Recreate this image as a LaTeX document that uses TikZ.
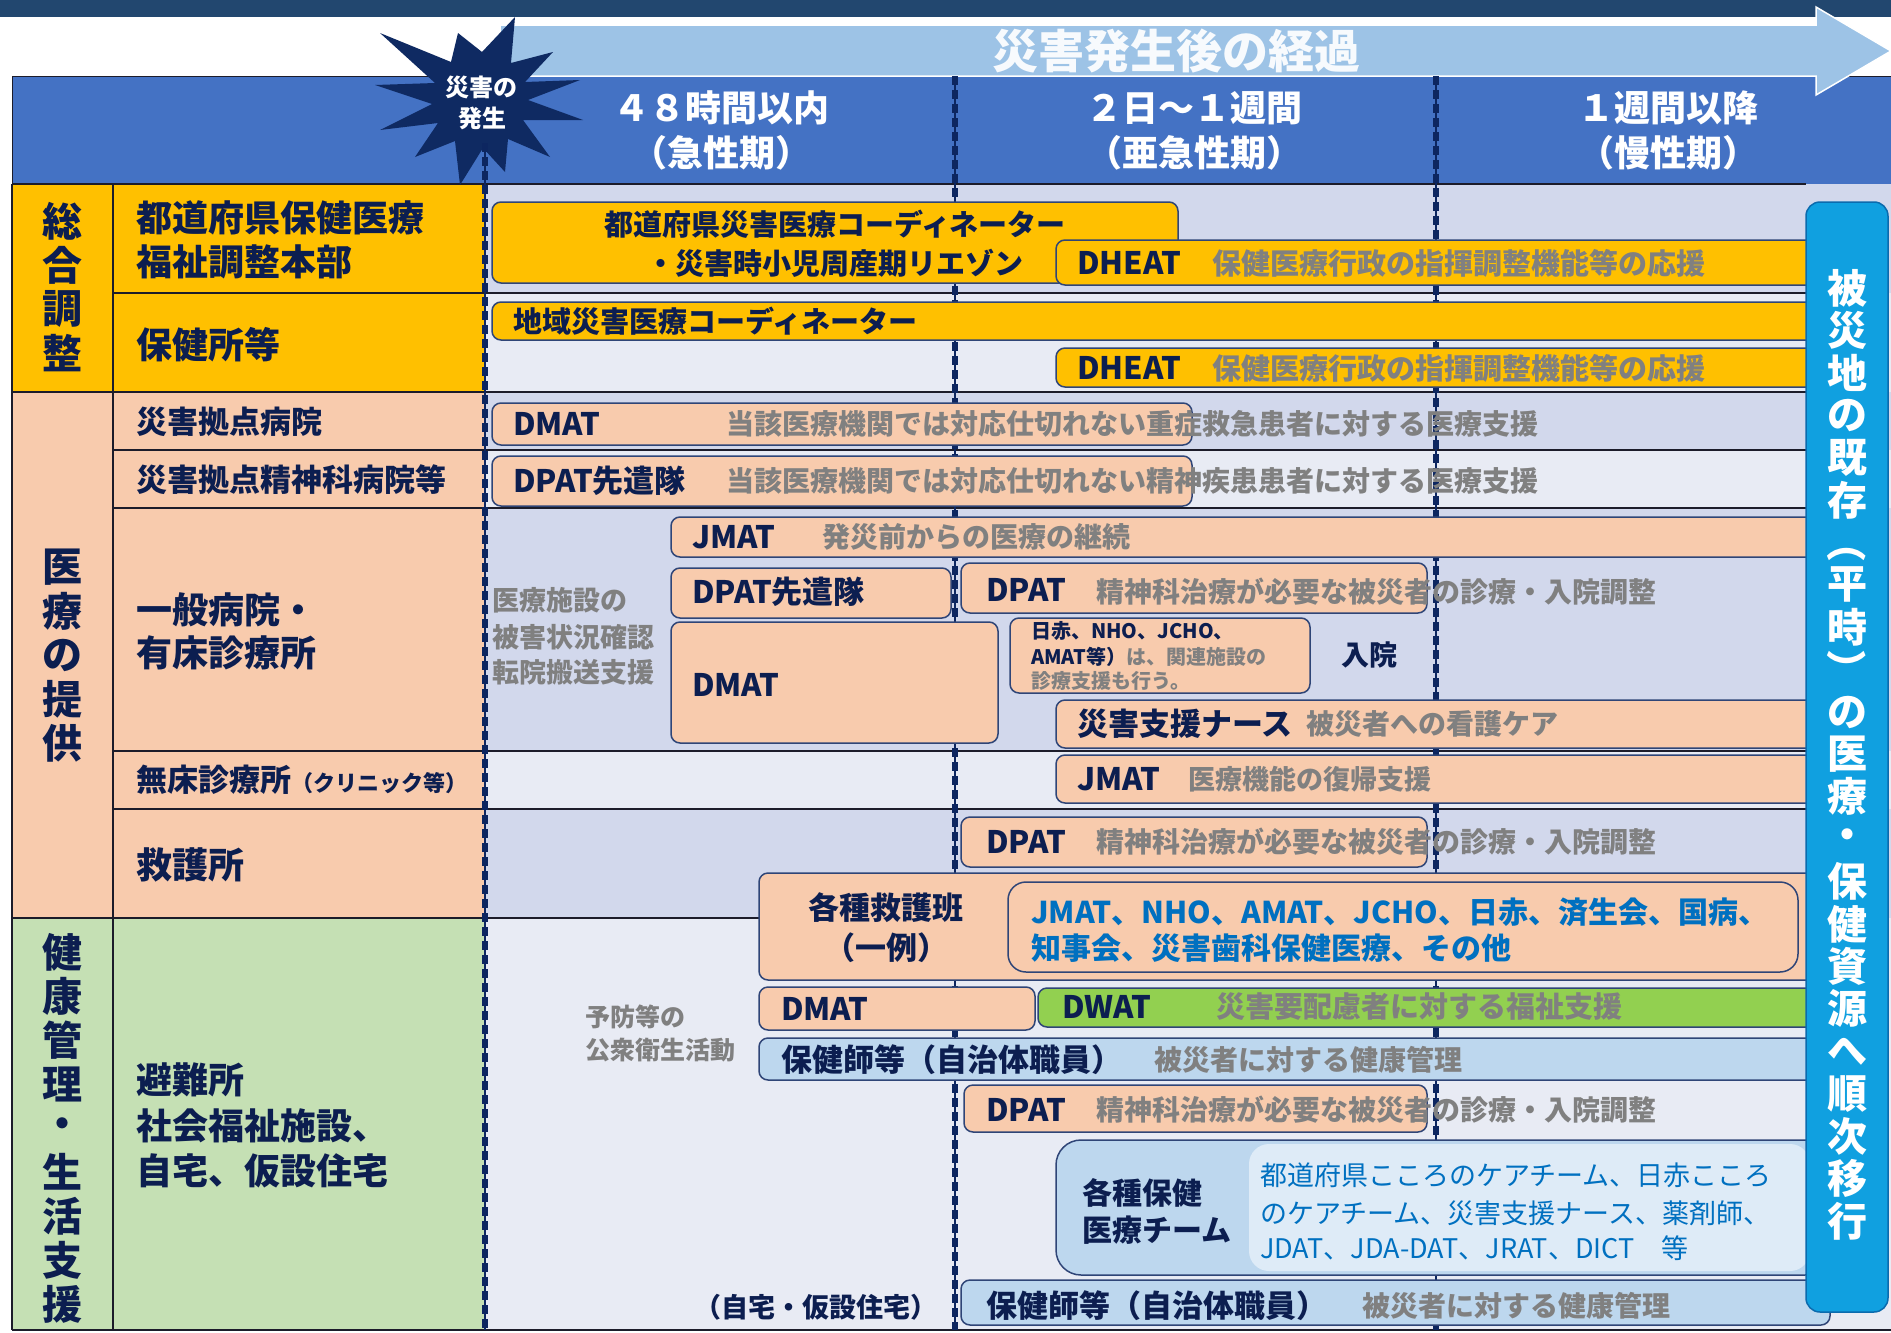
\documentclass[tikz,border=0pt]{standalone}
\usepackage{fontspec}
\setmainfont{Noto Sans CJK JP}
\usetikzlibrary{calc}
\newcommand\myfs[1]{\fontsize{#1}{#1}\selectfont}
\definecolor{topbar}{HTML}{22476F}
\definecolor{arrowblue}{HTML}{9DC3E6}
\definecolor{hdr}{HTML}{4472C4}
\definecolor{starnavy}{HTML}{0F2A62}
\definecolor{gold}{HTML}{FFC000}
\definecolor{peach}{HTML}{F8CBAD}
\definecolor{lgreen}{HTML}{C5E0B4}
\definecolor{dwat}{HTML}{92D050}
\definecolor{lblue}{HTML}{BDD7EE}
\definecolor{llblue}{HTML}{DEEBF7}
\definecolor{cyanbar}{HTML}{10A0E0}
\definecolor{cyanedge}{HTML}{0B6BAE}
\definecolor{rowdark}{HTML}{D2D8EC}
\definecolor{rowlight}{HTML}{E8EBF4}
\definecolor{navy}{HTML}{0C1E50}
\definecolor{grayt}{HTML}{808080}
\definecolor{bluet}{HTML}{0070C0}
\definecolor{boxline}{HTML}{2F4577}
\definecolor{dashnavy}{HTML}{0D2660}
\definecolor{rule}{HTML}{1C1C2A}
\begin{document}
\begin{tikzpicture}[x=1pt,y=-1pt,
  bx/.style={draw=boxline,line width=1.5pt,rounded corners=9pt},
  lb/.style={anchor=west,inner sep=0pt,text=navy,font=\bfseries\myfs{31}},
  gt/.style={anchor=west,inner sep=0pt,text=grayt,font=\bfseries\myfs{28}},
  lft/.style={anchor=west,inner sep=0pt,text=navy,font=\bfseries\myfs{36}},
  cat/.style={inner sep=0pt,text=navy,font=\bfseries\myfs{40}},
  hd/.style={inner sep=0pt,text=white,font=\bfseries\myfs{36}},
  bt/.style={anchor=west,inner sep=0pt,text=bluet,font=\bfseries\myfs{30}},
  rl/.style={draw=rule,line width=2pt},
  dl/.style={draw=dashnavy,line width=6pt,dash pattern=on 9pt off 5pt},
  sl/.style={draw=dashnavy,line width=1.2pt}]
\useasboundingbox (0,0) rectangle (1891,1333);
\fill[white] (0,0) rectangle (1891,1333);
% top bar
\fill[topbar] (0,0) rectangle (1891,17);
% header
\fill[hdr] (12,76) rectangle (1891,184);
\draw[rule,line width=1pt] (12,184) -- (12,76) -- (1891,76);
% arrow
\fill[arrowblue,draw=white,line width=1.5pt] (500,25) -- (1816,25) -- (1816,7) -- (1891,51) -- (1816,95) -- (1816,76) -- (500,76) -- cycle;
\node[inner sep=0pt,text=white!92!arrowblue,font=\bfseries\myfs{46}] (ttl) at (1176,51) {災害発生後の経過};
% header labels
\node[hd] (h1a) at (721,108) {４８時間以内};
\node[hd] (h1b) at (721,153) {（急性期）};
\node[hd] (h2a) at (1194,108) {２日～１週間};
\node[hd] (h2b) at (1194,153) {（亜急性期）};
\node[hd] (h3a) at (1668,108) {１週間以降};
\node[hd] (h3b) at (1668,153) {（慢性期）};
% left cells
\fill[gold] (12,184) rectangle (485,392);
\fill[peach] (12,392) rectangle (485,918);
\fill[lgreen] (12,918) rectangle (485,1330);
% timeline rows
\fill[rowdark] (485,184) rectangle (1891,293);
\fill[rowlight] (485,293) rectangle (1891,392);
\fill[rowdark] (485,392) rectangle (1891,450);
\fill[rowlight] (485,450) rectangle (1891,508);
\fill[rowdark] (485,508) rectangle (1891,751);
\fill[rowlight] (485,751) rectangle (1891,809);
\fill[rowdark] (485,809) rectangle (1891,918);
\fill[rowlight] (485,918) rectangle (1891,1330);
% rules
\draw[rl] (12,184) -- (1806,184);
\draw[rl] (12,392) -- (1806,392);
\draw[rl] (12,918) -- (1806,918);
\draw[rl] (12,1330) -- (1891,1330);
\foreach \yy in {293,450,508,751,809} \draw[rl] (113,\yy) -- (1806,\yy);
\draw[rl] (12,184) -- (12,1330);
\draw[rl] (113,184) -- (113,1330);
% dashed time lines
\draw[sl] (485,143) -- (485,1330);
\draw[dl] (485,143) -- (485,1330);
\draw[sl] (955,76) -- (955,1330);
\draw[dl] (955,76) -- (955,1330);
\draw[sl] (1436,76) -- (1436,1330);
\draw[dl] (1436,76) -- (1436,1330);
% star
\fill[starnavy] (515,17) -- (511,63) -- (553,52) -- (525,82) -- (580,80) -- (528,100) -- (583,120) -- (523,120) -- (550,157) -- (508,139) -- (505,172) -- (483,148) -- (460,185) -- (455,141) -- (415,157) -- (438,123) -- (380,130) -- (432,104) -- (375,85) -- (435,83) -- (380,33) -- (451,62) -- (458,33) -- (482,52) -- cycle;
\draw[sl] (485,143) -- (485,184);
\draw[dl] (485,143) -- (485,184);
\node[inner sep=0pt,text=white,font=\bfseries\myfs{24}] (st1) at (481,87) {災害の};
\node[inner sep=0pt,text=white,font=\bfseries\myfs{24}] (st2) at (482,118) {発生};
% category column
\foreach \c [count=\i] in {総,合,調,整} \node[cat] (ca\i) at (62,{221+44*(\i-1)}) {\c};
\foreach \c [count=\i] in {医,療,の,提,供} \node[cat] (cb\i) at (62,{567+44*(\i-1)}) {\c};
\foreach \c [count=\i] in {健,康,管,理,・,生,活,支,援} \node[cat] (cc\i) at (62,{952+44*(\i-1)}) {\c};
% second column labels
\node[lft] (l1a) at (136,218) {都道府県保健医療};
\node[lft] (l1b) at (136,262) {福祉調整本部};
\node[lft] (l2) at (136,345) {保健所等};
\node[lb] (l3) at (136,422) {災害拠点病院};
\node[lb] (l4) at (136,480) {災害拠点精神科病院等};
\node[lft] (l5a) at (136,610) {一般病院・};
\node[lft] (l5b) at (136,653) {有床診療所};
\node[lb] (l6) at (136,780) {無床診療所{\myfs{22}（クリニック等）}};
\node[lft] (l7) at (136,865) {救護所};
\node[lft] (l8a) at (136,1080) {避難所};
\node[lft] (l8b) at (136,1126) {社会福祉施設、};
\node[lft] (l8c) at (136,1171) {自宅、仮設住宅};
% ---- boxes: coordination
\filldraw[bx,fill=gold] (492,202) rectangle (1178,283);
\node[inner sep=0pt,text=navy,font=\bfseries\myfs{29}] (t1a) at (835,224) {都道府県災害医療コーディネーター};
\node[inner sep=0pt,text=navy,font=\bfseries\myfs{29}] (t1b) at (835,263) {・災害時小児周産期リエゾン};
\filldraw[bx,fill=gold] (1056,240) rectangle (1830,285);
\node[lb] (t2) at (1077,263) {DHEAT};
\node[gt,font=\bfseries\myfs{29}] (g2) at (1212,263) {保健医療行政の指揮調整機能等の応援};
\filldraw[bx,fill=gold] (492,302) rectangle (1830,340);
\node[lb,font=\bfseries\myfs{29}] (t3) at (513,321) {地域災害医療コーディネーター};
\filldraw[bx,fill=gold] (1056,348) rectangle (1830,387);
\node[lb] (t4) at (1077,368) {DHEAT};
\node[gt,font=\bfseries\myfs{29}] (g4) at (1212,368) {保健医療行政の指揮調整機能等の応援};
% ---- medical
\filldraw[bx,fill=peach] (492,403) rectangle (1192,445);
\node[lb] (t5) at (513,424) {DMAT};
\node[gt] (g5) at (726,424) {当該医療機関では対応仕切れない重症救急患者に対する医療支援};
\filldraw[bx,fill=peach] (492,456) rectangle (1192,506);
\node[lb] (t6) at (513,481) {DPAT先遣隊};
\node[gt] (g6) at (726,481) {当該医療機関では対応仕切れない精神疾患患者に対する医療支援};
\filldraw[bx,fill=peach] (671,517) rectangle (1830,557);
\node[lb] (t7) at (692,537) {JMAT};
\node[gt] (g7) at (822,537) {発災前からの医療の継続};
\filldraw[bx,fill=peach] (671,568) rectangle (951,618);
\node[lb] (t8) at (692,592) {DPAT先遣隊};
\filldraw[bx,fill=peach] (961,563) rectangle (1427,613);
\node[lb] (t9) at (986,590) {DPAT};
\node[gt] (g9) at (1096,592) {精神科治療が必要な被災者の診療・入院調整};
\filldraw[bx,fill=peach] (671,622) rectangle (998,743);
\node[lb] (t10) at (692,685) {DMAT};
\filldraw[bx,fill=peach] (1010,618) rectangle (1310,693);
\node[anchor=west,inner sep=0pt,text=navy,font=\bfseries\myfs{20}] (t11a) at (1031,631) {日赤、NHO、JCHO、};
\node[anchor=west,inner sep=0pt,font=\bfseries\myfs{20}] (t11b) at (1031,657) {\textcolor{navy}{AMAT等）}\textcolor{grayt}{は、関連施設の}};
\node[anchor=west,inner sep=0pt,text=grayt,font=\bfseries\myfs{20}] (t11c) at (1031,681) {診療支援も行う。};
\node[inner sep=0pt,text=navy,font=\bfseries\myfs{28}] (nyuin) at (1369,655) {入院};
\filldraw[bx,fill=peach] (1056,700) rectangle (1830,748);
\node[lb] (t12) at (1077,724) {災害支援ナース};
\node[gt] (g12) at (1306,724) {被災者への看護ケア};
\node[gt,font=\bfseries\myfs{27}] (m1) at (492,600) {医療施設の};
\node[gt,font=\bfseries\myfs{27}] (m2) at (492,637) {被害状況確認};
\node[gt,font=\bfseries\myfs{27}] (m3) at (492,672) {転院搬送支援};
\filldraw[bx,fill=peach] (1056,755) rectangle (1830,803);
\node[lb] (t13) at (1077,779) {JMAT};
\node[gt,font=\bfseries\myfs{27}] (g13) at (1188,779) {医療機能の復帰支援};
\filldraw[bx,fill=peach] (961,817) rectangle (1427,867);
\node[lb] (t14) at (986,842) {DPAT};
\node[gt] (g14) at (1096,842) {精神科治療が必要な被災者の診療・入院調整};
\filldraw[bx,fill=peach] (759,873) rectangle (1830,980);
\node[inner sep=0pt,text=navy,font=\bfseries\myfs{31}] (t15a) at (886,908) {各種救護班};
\node[inner sep=0pt,text=navy,font=\bfseries\myfs{31}] (t15b) at (886,948) {（一例）};
\filldraw[bx,fill=peach,rounded corners=18pt] (1008,882) rectangle (1798,972);
\node[bt] (b1) at (1031,912) {JMAT、NHO、AMAT、JCHO、日赤、済生会、国病、};
\node[bt] (b2) at (1031,948) {知事会、災害歯科保健医療、その他};
% ---- health
\filldraw[bx,fill=peach] (759,987) rectangle (1035,1030);
\node[lb] (t16) at (781,1009) {DMAT};
\filldraw[bx,fill=dwat] (1038,988) rectangle (1830,1027);
\node[lb] (t17) at (1062,1007) {DWAT};
\node[gt,font=\bfseries\myfs{29}] (g17) at (1216,1007) {災害要配慮者に対する福祉支援};
\node[gt,font=\bfseries\myfs{25}] (p1) at (585,1017) {予防等の};
\node[gt,font=\bfseries\myfs{25}] (p2) at (585,1050) {公衆衛生活動};
\filldraw[bx,fill=lblue] (759,1038) rectangle (1830,1080);
\node[lb] (t18) at (781,1060) {保健師等（自治体職員）};
\node[gt] (g18) at (1154,1060) {被災者に対する健康管理};
\filldraw[bx,fill=peach] (964,1085) rectangle (1427,1132);
\node[lb] (t19) at (986,1110) {DPAT};
\node[gt] (g19) at (1096,1110) {精神科治療が必要な被災者の診療・入院調整};
\filldraw[bx,fill=lblue,rounded corners=25pt] (1056,1140) rectangle (1830,1275);
\fill[llblue,rounded corners=20pt] (1249,1144) rectangle (1810,1271);
\node[lb,font=\bfseries\myfs{30}] (t20a) at (1082,1193) {各種保健};
\node[lb,font=\bfseries\myfs{30}] (t20b) at (1082,1230) {医療チーム};
\node[bt,font=\myfs{27}] (c1) at (1260,1175) {都道府県こころのケアチーム、日赤こころ};
\node[bt,font=\myfs{27}] (c2) at (1260,1213) {のケアチーム、災害支援ナース、薬剤師、};
\node[bt,font=\myfs{27}] (c3) at (1260,1248) {JDAT、JDA-DAT、JRAT、DICT　等};
\filldraw[bx,fill=lblue] (961,1280) rectangle (1830,1325);
\node[lb] (t21) at (986,1306) {保健師等（自治体職員）};
\node[gt] (g21) at (1362,1306) {被災者に対する健康管理};
\node[anchor=east,inner sep=0pt,text=navy,font=\bfseries\myfs{27}] (jt) at (938,1307) {（自宅・仮設住宅）};
% ---- cyan bar
\filldraw[fill=cyanbar,draw=cyanedge,line width=1.5pt,rounded corners=14pt] (1806,202) rectangle (1888,1312);
\foreach \c [count=\i] in {被,災,地,の,既,存,\rotatebox{-90}{（},平,時,\rotatebox{-90}{）},の,医,療,・,保,健,資,源,へ,順,次,移,行}
  \node[inner sep=0pt,text=white,font=\bfseries\myfs{40}] (cy\i) at (1847,{288+42.4*(\i-1)}) {\c};
\end{tikzpicture}
\end{document}
